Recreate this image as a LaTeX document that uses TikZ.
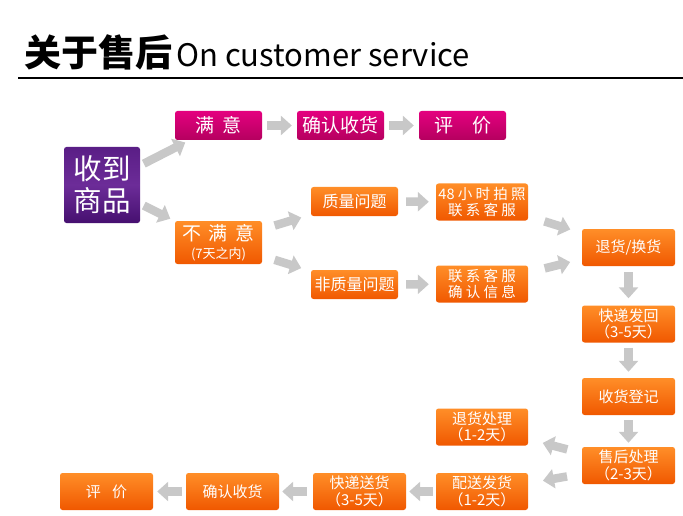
\documentclass[tikz,border=0pt]{standalone}
\usepackage{fontspec}
\setmainfont{Noto Sans CJK SC}
\usetikzlibrary{arrows.meta}
\definecolor{violaA}{HTML}{5A1E86}
\definecolor{violaB}{HTML}{6C2C98}
\definecolor{violaC}{HTML}{461070}
\definecolor{rosaA}{HTML}{E4007F}
\definecolor{rosaB}{HTML}{B5005F}
\definecolor{aranA}{HTML}{FF8E28}
\definecolor{aranB}{HTML}{F05800}
\definecolor{grigio}{HTML}{C8C8C8}
\tikzset{
  scatola/.style={rounded corners=2.5pt, text=white, align=center, inner sep=0pt},
  viola/.style={scatola, top color=violaA, bottom color=violaC, middle color=violaB},
  rosa/.style={scatola, top color=rosaA, bottom color=rosaB, minimum width=87pt, minimum height=29pt, font=\fontsize{19}{21}\selectfont},
  arancio/.style={scatola, top color=aranA, bottom color=aranB, minimum width=93pt, minimum height=37pt, font=\fontsize{15}{16.5}\selectfont},
  piccola/.style={arancio, minimum width=87pt, minimum height=29pt, font=\fontsize{16}{18}\selectfont},
  freccia/.style={draw=grigio, line width=8.5pt, -{Triangle[length=11pt,width=19pt]}, shorten <=5pt, shorten >=5pt},
  obliqua/.style={freccia, shorten <=13pt, shorten >=10pt}
}
\begin{document}
\begin{tikzpicture}[x=1pt,y=-1pt]
  % area del disegno
  \useasboundingbox (0,0) rectangle (683,516);
  % titolo
  \node[anchor=base west, inner sep=0pt] (titolo) at (24,67)
    {{\fontsize{37}{40}\bfseries 关于售后}\hspace{4pt}{\fontsize{31}{40}\selectfont On customer service}};
  % linea sotto il titolo
  \coordinate (lineaA) at (18,78);
  \coordinate (lineaB) at (683,78);
  \draw[line width=1.3pt] (lineaA) -- (lineaB);
  % merce ricevuta
  \node[viola, minimum width=76pt, minimum height=76pt, font=\fontsize{28.5}{32}\selectfont] (merce) at (102,185) {收到\\商品};
  % ramo soddisfatto
  \node[rosa] (soddisfatto) at (218.5,125.5) {满\hspace{0.4em}意};
  \node[rosa] (confermaA) at (340.5,125.5) {确认收货};
  \node[rosa] (votoA) at (462.5,125.5) {评　价};
  % ramo non soddisfatto
  \node[arancio, minimum width=87pt, minimum height=43pt, font=\fontsize{19}{21}\selectfont] (insoddisfatto) at (218.5,242.5)
    {不\hspace{0.4em}满\hspace{0.4em}意\\[-3pt]{\fontsize{13}{14}\selectfont(7天之内)}};
  \node[piccola] (qualita) at (354.5,201.5) {质量问题};
  \node[piccola] (nonqualita) at (354.5,284.5) {非质量问题};
  \node[arancio, minimum width=92pt, font=\fontsize{14.5}{15.5}\selectfont] (foto) at (482,202) {48 小 时 拍 照\\联 系 客 服};
  \node[arancio, minimum width=92pt, font=\fontsize{14.5}{15.5}\selectfont] (contatto) at (482,284) {联 系 客 服\\确 认 信 息};
  % colonna a destra
  \node[arancio] (cambio) at (628.5,247.5) {退货/换货};
  \node[arancio] (ritorno) at (628.5,324) {快递发回\\（3-5天）};
  \node[arancio] (registro) at (628.5,396.5) {收货登记};
  \node[arancio] (assistenza) at (628.5,465.5) {售后处理\\（2-3天）};
  % riga in basso
  \node[arancio, minimum width=92pt] (rimborso) at (482,427) {退货处理\\（1-2天）};
  \node[arancio, minimum width=92pt] (consegna) at (482,491.5) {配送发货\\（1-2天）};
  \node[arancio] (corriere) at (359.5,491.5) {快递送货\\（3-5天）};
  \node[arancio] (confermaB) at (232.5,491.5) {确认收货};
  \node[arancio] (votoB) at (106.5,491.5) {评\hspace{0.75em}价};
  % frecce
  \draw[freccia, shorten <=4pt] (merce) -- (soddisfatto);
  \draw[freccia, shorten <=4pt] (merce) -- (insoddisfatto);
  \draw[freccia] (soddisfatto) -- (confermaA);
  \draw[freccia] (confermaA) -- (votoA);
  \draw[obliqua] (insoddisfatto) -- (qualita);
  \draw[obliqua] (insoddisfatto) -- (nonqualita);
  \draw[freccia, shorten <=8pt, shorten >=7pt] (qualita) -- (foto);
  \draw[freccia, shorten <=8pt, shorten >=7pt] (nonqualita) -- (contatto);
  \draw[obliqua, shorten <=17pt, shorten >=12pt] (foto) -- (cambio);
  \draw[obliqua, shorten <=17pt, shorten >=12pt] (contatto) -- (cambio);
  \draw[freccia, shorten <=6pt, shorten >=7pt] (cambio) -- (ritorno);
  \draw[freccia, shorten >=6pt] (ritorno) -- (registro);
  \draw[freccia, shorten >=4pt] (registro) -- (assistenza);
  \draw[obliqua, shorten <=15pt, shorten >=15pt] (assistenza) -- (rimborso);
  \draw[obliqua, shorten <=15pt, shorten >=15pt] (assistenza) -- (consegna);
  \draw[freccia, shorten <=3pt, shorten >=3pt] (consegna) -- (corriere);
  \draw[freccia, shorten <=6pt, shorten >=3pt] (corriere) -- (confermaB);
  \draw[freccia, shorten <=4pt, shorten >=4pt] (confermaB) -- (votoB);
\end{tikzpicture}
\end{document}
